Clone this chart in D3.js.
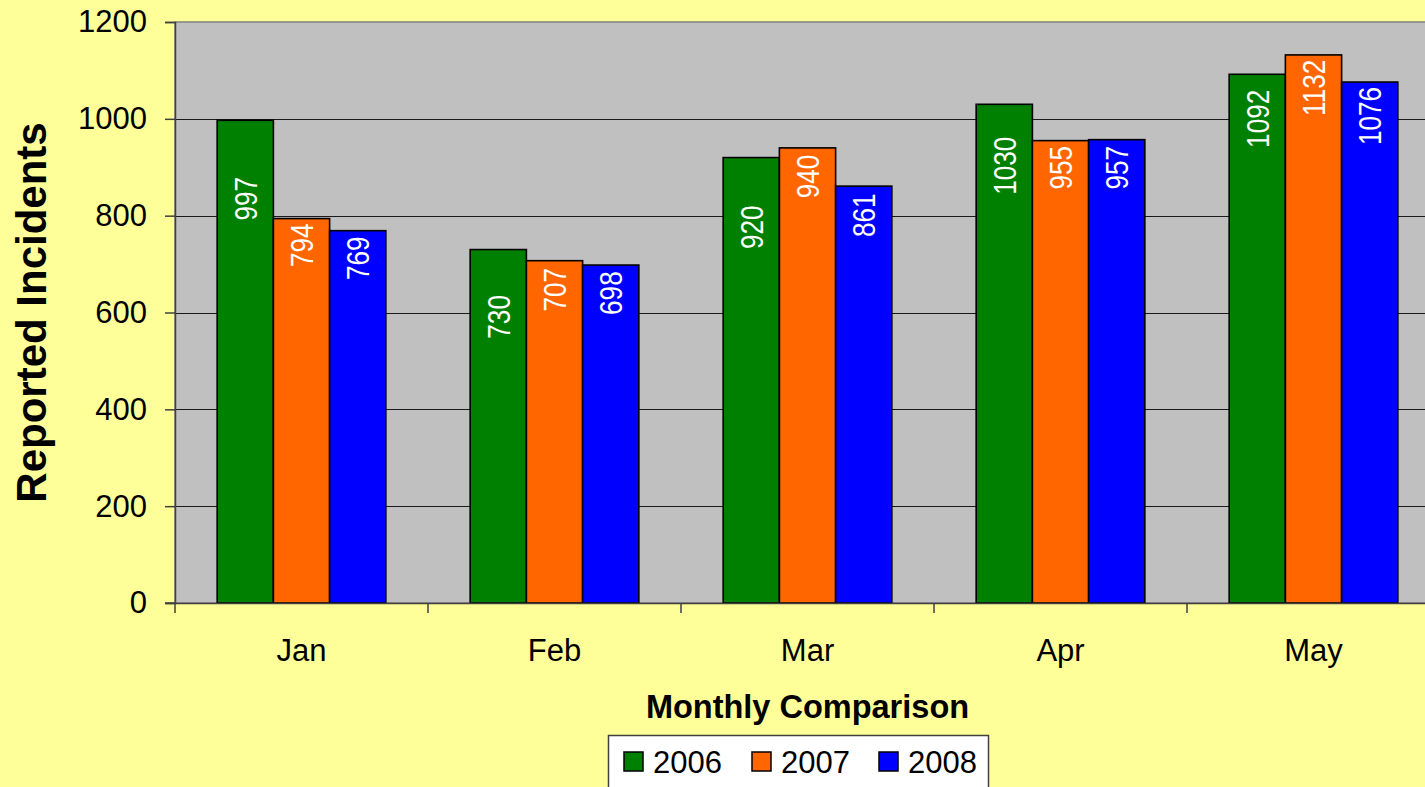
<!DOCTYPE html>
<html>
<head>
<meta charset="utf-8">
<script src="https://cdn.jsdelivr.net/npm/d3@7"></script>
<style>
  html, body { margin: 0; padding: 0; background: #FFFF99; overflow: hidden; }
  svg { display: block; }
  text { font-family: "Liberation Sans", Arial, sans-serif; }
</style>
</head>
<body>
<svg id="chart" width="1425" height="787"></svg>
<script>
// ---- data ----
const months = ["Jan", "Feb", "Mar", "Apr", "May"];
const years = ["2006", "2007", "2008"];
const values2006 = [997, 730, 920, 1030, 1092];
const values2007 = [794, 707, 940, 955, 1132];
const values2008 = [769, 698, 861, 957, 1076];
// value (in data units) where each rotated data label is centred
const labelAt2006 = [835, 591, 776, 903, 1000];
const labelAt2007 = [739, 647, 881, 899, 1064];
const labelAt2008 = [712, 640, 801, 899, 1006];
const yTicks = [0, 200, 400, 600, 800, 1000, 1200];
const colors = ["#008000", "#FF6600", "#0000FF"];

const series = [values2006, values2007, values2008];
const labelAts = [labelAt2006, labelAt2007, labelAt2008];

const svg = d3.select("#chart");
const plot = { left: 175, top: 22, right: 1440, bottom: 603 };

const x0 = d3.scaleBand().domain(months).range([plot.left, plot.right]).paddingInner(0).paddingOuter(0);
const groupW = x0.bandwidth() * 3 / 4.5;
const x1 = d3.scaleBand().domain(years).range([0, groupW]).padding(0);
const groupOff = (x0.bandwidth() - groupW) / 2;
const y = d3.scaleLinear().domain([0, 1200]).range([plot.bottom, plot.top]);

// plot background
svg.append("rect")
  .attr("x", plot.left).attr("y", plot.top)
  .attr("width", plot.right - plot.left).attr("height", plot.bottom - plot.top)
  .attr("fill", "#C0C0C0").attr("stroke", "#808080").attr("stroke-width", 1.5);

// gridlines
svg.append("g").selectAll("line").data(yTicks.filter(d => d > 0 && d < 1200)).join("line")
  .attr("x1", plot.left).attr("x2", plot.right)
  .attr("y1", d => Math.round(y(d)) + 0.5).attr("y2", d => Math.round(y(d)) + 0.5)
  .attr("stroke", "#1a1a1a").attr("stroke-width", 1.2);

// bars
const groups = svg.append("g").selectAll("g").data(months).join("g")
  .attr("transform", m => `translate(${x0(m) + groupOff},0)`);

groups.selectAll("rect").data((m, i) => years.map((yr, k) => ({ yr, k, v: series[k][i] }))).join("rect")
  .attr("x", d => x1(d.yr))
  .attr("y", d => y(d.v))
  .attr("width", x1.bandwidth())
  .attr("height", d => y(0) - y(d.v))
  .attr("fill", d => colors[d.k])
  .attr("stroke", "#000").attr("stroke-width", 1.6);

groups.selectAll("text").data((m, i) => years.map((yr, k) => ({ yr, k, v: series[k][i], at: labelAts[k][i] }))).join("text")
  .attr("transform", d => `translate(${x1(d.yr) + x1.bandwidth() / 2},${y(d.at)}) rotate(-90) scale(0.83,1)`)
  .attr("text-anchor", "middle")
  .attr("dy", "0.36em")
  .attr("fill", "#fff")
  .style("font-size", "31.5px")
  .style("font-weight", "500")
  .text(d => d.v);

// y axis
const yAxis = svg.append("g").attr("transform", `translate(${plot.left},0)`)
  .call(d3.axisLeft(y).tickValues(yTicks).tickFormat(d3.format("d")).tickSize(10).tickPadding(18));
yAxis.select(".domain").attr("stroke", "#404040").attr("stroke-width", 1.5);
yAxis.selectAll(".tick line").attr("stroke", "#404040").attr("stroke-width", 1.5);
yAxis.selectAll(".tick text").style("font-size", "31px").attr("fill", "#000")
  .style("font-family", "'Liberation Sans', Arial, sans-serif");

// x axis
const xAxis = svg.append("g").attr("transform", `translate(0,${plot.bottom})`)
  .call(d3.axisBottom(x0).tickSize(0).tickPadding(36));
xAxis.select(".domain").attr("stroke", "#404040").attr("stroke-width", 1.5);
xAxis.selectAll(".tick text").style("font-size", "31px").attr("fill", "#000")
  .style("font-family", "'Liberation Sans', Arial, sans-serif");
// category separator ticks
svg.append("g").selectAll("line").data(months).join("line")
  .attr("x1", m => x0(m)).attr("x2", m => x0(m))
  .attr("y1", plot.bottom).attr("y2", plot.bottom + 10)
  .attr("stroke", "#404040").attr("stroke-width", 1.5);
svg.append("line").attr("x1", plot.left - 10).attr("x2", plot.left)
  .attr("y1", plot.bottom).attr("y2", plot.bottom).attr("stroke", "#404040").attr("stroke-width", 1.5);

// axis titles
svg.append("text")
  .attr("transform", `translate(46,${(plot.top + plot.bottom) / 2}) rotate(-90)`)
  .attr("text-anchor", "middle")
  .style("font-size", "42px").style("font-weight", "bold")
  .text("Reported Incidents");

svg.append("text")
  .attr("x", (plot.left + plot.right) / 2).attr("y", 718)
  .attr("text-anchor", "middle")
  .style("font-size", "32.5px").style("font-weight", "bold")
  .text("Monthly Comparison");

// legend
const leg = svg.append("g");
leg.append("rect").attr("x", 608.5).attr("y", 735.5).attr("width", 380).attr("height", 70)
  .attr("fill", "#fff").attr("stroke", "#404040").attr("stroke-width", 1.5);
const legX = [624, 752, 879];
const items = leg.selectAll("g.item").data(years).join("g").attr("class", "item")
  .attr("transform", (d, i) => `translate(${legX[i]},0)`);
items.append("rect").attr("x", 0).attr("y", 752).attr("width", 19).attr("height", 19)
  .attr("fill", (d, i) => colors[i]).attr("stroke", "#000").attr("stroke-width", 1.5);
items.append("text").attr("x", 29).attr("y", 773)
  .style("font-size", "31px").text(d => d);
</script>
</body>
</html>
